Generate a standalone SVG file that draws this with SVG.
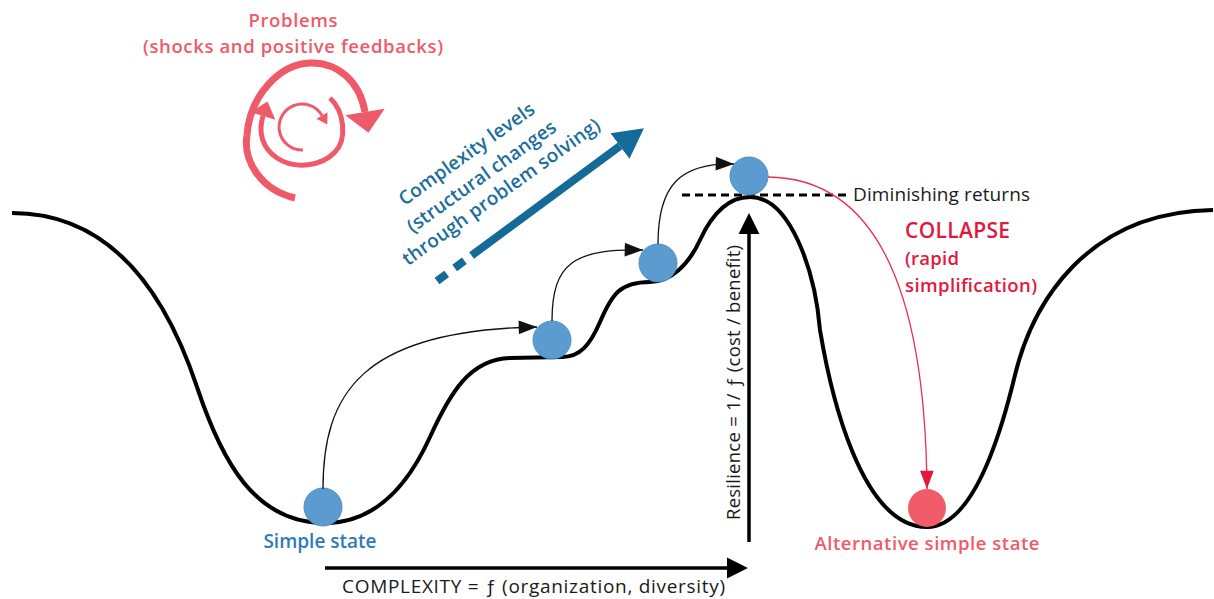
<svg xmlns="http://www.w3.org/2000/svg" width="1214" height="599" viewBox="0 0 1214 599">
<style>
.txt{font-family:"Open Sans",Lato,"Liberation Sans",sans-serif}
.b{font-weight:600}
.red{fill:#ee5a69}
.crim{fill:#e3173e}
.blue{fill:#1b6e9c}
.sblue{fill:#2f7bb9}
.dark{fill:#1a1a1a}
.ball{fill:#5b9bd0;stroke:#4d8fc6;stroke-width:1}
.rball{fill:#f15c68}
.thin{fill:none;stroke:#111;stroke-width:1.3}
.swirl{fill:none;stroke:#ee5a69}
</style>
<defs>
<marker id="ah" markerUnits="userSpaceOnUse" markerWidth="20" markerHeight="16" viewBox="0 -7 17 14" refX="16" refY="0" orient="auto"><path d="M0,-6 L16,0 L0,6 Z" fill="#111"/></marker>
<marker id="ahr" markerUnits="userSpaceOnUse" markerWidth="20" markerHeight="16" viewBox="0 -7 17 14" refX="16" refY="0" orient="auto"><path d="M0,-6 L16,0 L0,6 Z" fill="#e3173e"/></marker>
<marker id="axis" markerUnits="userSpaceOnUse" markerWidth="22" markerHeight="22" viewBox="0 -10 20 20" refX="0" refY="0" orient="auto"><path d="M0,-9.5 L19,0 L0,9.5 Z" fill="#000"/></marker>
<marker id="bluehead" markerUnits="userSpaceOnUse" markerWidth="32" markerHeight="34" viewBox="0 -16 30 32" refX="0" refY="0" orient="auto"><path d="M0,-15 L28,0 L0,15 Z" fill="#146a98"/></marker>
<marker id="swbig" markerUnits="userSpaceOnUse" markerWidth="24" markerHeight="42" viewBox="0 -20 22 40" refX="0" refY="0" orient="auto"><path d="M0,-19 L20,0 L0,19 Z" fill="#ee5a69"/></marker>
<marker id="swmid" markerUnits="userSpaceOnUse" markerWidth="18" markerHeight="28" viewBox="0 -13 16 26" refX="0" refY="0" orient="auto"><path d="M0,-12 L14,0 L0,12 Z" fill="#ee5a69"/></marker>
<marker id="swsm" markerUnits="userSpaceOnUse" markerWidth="12" markerHeight="14" viewBox="0 -6 10 12" refX="0" refY="0" orient="auto"><path d="M0,-5.5 L9,0 L0,5.5 Z" fill="#ee5a69"/></marker>
</defs>
<rect width="1214" height="599" fill="#fff"/>

<g id="landscape">
<path d="M12,213 C122,213 172,312 197,387 C222,462 255,523 325,523 C370,523 405,492 430,437 C450,393 470,359 510,358 L562,357 C580,357 590,345 600,322 C612,294 620,282 650,282 C670,282 688,266 700,240 C712,214 728,197 750,197 C790,197 815,270 820,330 C830,390 860,527 927,527 C975,527 1003,425 1015,375 C1032,305 1085,212 1213,210" fill="none" stroke="#000" stroke-width="4"/>
</g>

<g id="problems">
<text class="txt b red" x="293" y="27" font-size="18.5" text-anchor="middle" textLength="89">Problems</text>
<text class="txt b red" x="293" y="53" font-size="18.5" text-anchor="middle" textLength="300">(shocks and positive feedbacks)</text>
<path class="swirl" stroke-width="7" d="M295,198 C260,190 243,160 247,135 C250,95 280,64 310,63 C338,62 360,82 365,112" marker-end="url(#swbig)"/>
<path class="swirl" stroke-width="5" d="M330,98 C345,112 347,140 335,152 C322,166 295,170 277,158 C262,148 258,132 263,116" marker-end="url(#swmid)"/>
<path class="swirl" stroke-width="3" d="M303,150 A23,23 0 1 1 322,115.5" marker-end="url(#swsm)"/>
</g>

<g id="complexity-levels">
<path d="M437,281 L620,146" fill="none" stroke="#146a98" stroke-width="8" stroke-dasharray="12,10,12,9,500" marker-end="url(#bluehead)"/>
<g transform="translate(472,158) rotate(-35.5)">
<text class="txt b blue" x="-2" y="0" font-size="19" text-anchor="middle" textLength="162">Complexity levels</text>
<text class="txt b blue" x="-3" y="27" font-size="19" text-anchor="middle" textLength="178">(structural changes</text>
<text class="txt b blue" x="4" y="51" font-size="19" text-anchor="middle" textLength="238">through problem solving)</text>
</g>
</g>

<g id="diminishing">
<line x1="682" y1="195" x2="848" y2="195" stroke="#000" stroke-width="3" stroke-dasharray="8,5"/>
<text class="txt dark" x="853" y="201" font-size="19" textLength="177">Diminishing returns</text>
</g>

<g id="collapse-label">
<text class="txt b crim" x="905" y="238" font-size="21" textLength="105">COLLAPSE</text>
<text class="txt b crim" x="905" y="265" font-size="18.5" textLength="54">(rapid</text>
<text class="txt b crim" x="905" y="292" font-size="18.5" textLength="132">simplification)</text>
</g>

<g id="ball-simple">
<circle class="ball" cx="323" cy="507" r="19"/>
<text class="txt b sblue" x="320" y="548" font-size="19" text-anchor="middle">Simple state</text>
</g>
<g id="ball-level2"><circle class="ball" cx="552" cy="340" r="19"/></g>
<g id="ball-level3"><circle class="ball" cx="658" cy="263" r="19"/></g>
<g id="ball-top"><circle class="ball" cx="749" cy="176" r="19"/></g>
<g id="ball-alternative">
<circle class="rball" cx="927" cy="508" r="19"/>
<text class="txt b red" x="927" y="550" font-size="18.5" text-anchor="middle" textLength="225">Alternative simple state</text>
</g>

<g id="axes">
<line x1="325" y1="568" x2="727" y2="568" stroke="#000" stroke-width="3.5" marker-end="url(#axis)"/>
<text class="txt dark" x="342" y="593" font-size="19" textLength="383">COMPLEXITY = ƒ (organization, diversity)</text>
<line x1="749" y1="542" x2="749" y2="234" stroke="#000" stroke-width="3.5" marker-end="url(#axis)"/>
<text class="txt dark" transform="translate(740,520) rotate(-90)" font-size="18.5" textLength="275">Resilience = 1/ ƒ (cost / benefit)</text>
</g>

<g id="connectors">
<path class="thin" d="M323,489 C323,395 360,330 537,327" marker-end="url(#ah)"/>
<path class="thin" d="M552,321 C552,262 575,249 643,250" marker-end="url(#ah)"/>
<path class="thin" d="M658,244 C658,185 680,163 734,164" marker-end="url(#ah)"/>
<path d="M768,177 C860,178 925,260 927,489" fill="none" stroke="#e6324f" stroke-width="1.3" marker-end="url(#ahr)"/>
</g>
</svg>
